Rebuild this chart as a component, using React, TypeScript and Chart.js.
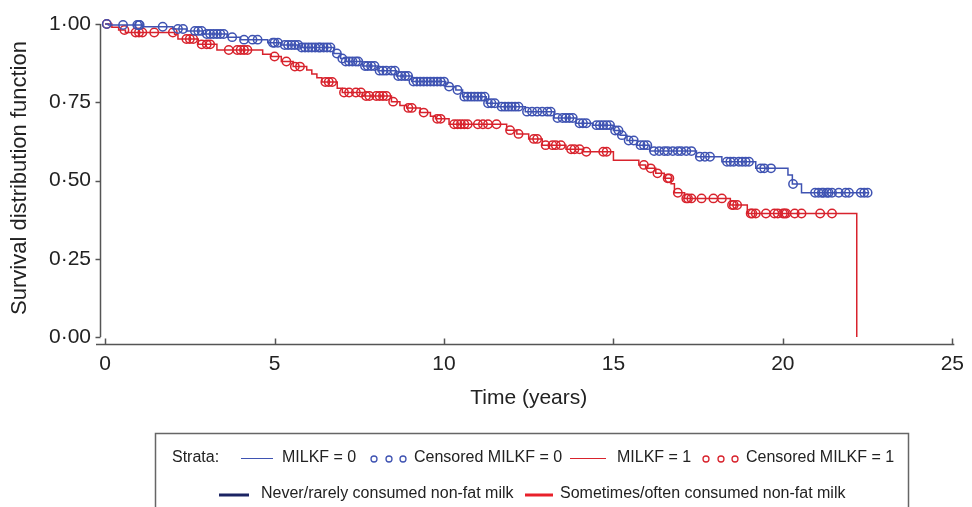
import React, { useEffect, useRef } from 'react';
import { Chart, registerables } from 'chart.js';

Chart.register(...registerables);

const FONT = '"Liberation Sans", Arial, Helvetica, sans-serif';
const BLUE = '#3f53b2';
const RED = '#d8232d';
const NAVY = '#1b2463';
const RED2 = '#e8202a';
const AXIS = '#555555';

const xTicks = [0, 5, 10, 15, 20, 25];
const yTicks = [0, 0.25, 0.5, 0.75, 1.0];

// MILKF = 0 : Kaplan-Meier step points (time, survival after the step)
const blueStepT = [0, 0.1, 1.1, 2.0, 2.4, 2.9, 3.6, 4.0, 4.8, 5.2, 5.75, 6.75, 6.95, 7.1, 7.6, 8.05, 8.6, 9.05, 10.05, 10.35, 10.55, 11.25, 11.6, 12.4, 13.25, 13.9, 14.4, 15.0, 15.2, 15.4, 15.7, 16.07, 17.45, 18.2, 19.2, 20.15, 20.28, 20.55, 22.55];
const blueStepS = [1.0, 0.997, 0.991, 0.984, 0.978, 0.968, 0.958, 0.95, 0.94, 0.933, 0.925, 0.906, 0.89, 0.88, 0.866, 0.851, 0.834, 0.816, 0.8, 0.789, 0.768, 0.747, 0.736, 0.72, 0.7, 0.683, 0.677, 0.66, 0.645, 0.628, 0.613, 0.594, 0.576, 0.56, 0.539, 0.518, 0.489, 0.461, 0.461];
const blueCensT = [0.05, 0.53, 0.95, 1.0, 1.02, 1.7, 2.15, 2.3, 2.65, 2.75, 2.85, 3.0, 3.1, 3.2, 3.3, 3.4, 3.5, 3.75, 4.1, 4.35, 4.5, 4.95, 5.0, 5.1, 5.3, 5.4, 5.5, 5.6, 5.7, 5.8, 5.9, 6.0, 6.1, 6.2, 6.3, 6.35, 6.45, 6.55, 6.65, 6.84, 7.0, 7.1, 7.2, 7.3, 7.4, 7.47, 7.67, 7.75, 7.85, 7.95, 8.1, 8.2, 8.3, 8.45, 8.55, 8.65, 8.75, 8.85, 8.94, 9.1, 9.2, 9.3, 9.4, 9.5, 9.6, 9.7, 9.8, 9.9, 10.0, 10.15, 10.4, 10.6, 10.7, 10.8, 10.9, 11.0, 11.1, 11.2, 11.3, 11.4, 11.5, 11.7, 11.8, 11.9, 12.0, 12.1, 12.2, 12.45, 12.6, 12.75, 12.9, 13.05, 13.15, 13.35, 13.5, 13.6, 13.7, 13.8, 14.0, 14.1, 14.2, 14.5, 14.6, 14.7, 14.8, 14.9, 15.05, 15.15, 15.25, 15.45, 15.6, 15.8, 15.9, 16.0, 16.2, 16.35, 16.5, 16.6, 16.75, 16.9, 17.0, 17.15, 17.3, 17.55, 17.7, 17.85, 18.35, 18.45, 18.55, 18.7, 18.8, 18.9, 19.0, 19.35, 19.45, 19.65, 20.3, 20.95, 21.05, 21.15, 21.2, 21.3, 21.35, 21.45, 21.65, 21.85, 21.95, 22.3, 22.4, 22.5];

// MILKF = 1
const redStepT = [0, 0.2, 0.4, 0.6, 2.05, 2.15, 2.75, 3.3, 4.65, 4.9, 5.2, 5.55, 5.95, 6.1, 6.25, 6.4, 6.85, 7.0, 7.6, 8.45, 8.7, 8.9, 9.3, 9.6, 9.75, 10.15, 11.85, 12.15, 12.5, 12.9, 13.6, 14.1, 15.0, 15.75, 15.95, 16.25, 16.5, 16.7, 16.8, 17.1, 18.45, 18.95, 22.18];
const redStepS = [1.0, 0.99, 0.981, 0.973, 0.967, 0.952, 0.935, 0.917, 0.903, 0.896, 0.88, 0.864, 0.853, 0.84, 0.828, 0.815, 0.795, 0.781, 0.77, 0.752, 0.74, 0.732, 0.717, 0.705, 0.697, 0.68, 0.661, 0.649, 0.633, 0.613, 0.6, 0.592, 0.565, 0.55, 0.539, 0.523, 0.507, 0.49, 0.461, 0.443, 0.422, 0.395, 0.0];
const redCensT = [0.05, 0.57, 0.9, 1.0, 1.1, 1.45, 2.0, 2.4, 2.5, 2.6, 2.85, 3.0, 3.1, 3.65, 3.9, 4.0, 4.1, 4.2, 5.0, 5.35, 5.6, 5.75, 6.5, 6.6, 6.7, 7.05, 7.2, 7.4, 7.55, 7.7, 7.8, 8.0, 8.1, 8.2, 8.3, 8.5, 8.95, 9.05, 9.4, 9.8, 9.9, 10.3, 10.4, 10.5, 10.6, 10.7, 11.0, 11.15, 11.3, 11.55, 11.95, 12.2, 12.65, 12.75, 13.0, 13.2, 13.3, 13.45, 13.75, 13.85, 14.0, 14.2, 14.7, 14.8, 15.9, 16.1, 16.3, 16.6, 16.65, 16.9, 17.15, 17.2, 17.3, 17.6, 17.95, 18.2, 18.5, 18.55, 18.65, 19.05, 19.1, 19.2, 19.5, 19.75, 19.85, 20.0, 20.05, 20.1, 20.35, 20.55, 21.1, 21.45];

function survAt(ts: number[], ss: number[], t: number) {
  let s = ss[0];
  for (let i = 0; i < ts.length; i++) if (ts[i] <= t) s = ss[i];
  return s;
}

const stepPts = (ts: number[], ss: number[]) => ts.map((t, i) => ({ x: t, y: ss[i] }));
const censPts = (cs: number[], ts: number[], ss: number[]) => cs.map((t) => ({ x: t, y: survAt(ts, ss, t) }));

const decor = {
  id: 'decor',
  afterDraw(chart: any) {
    const ctx = chart.ctx;
    const xs = chart.scales.x;
    const ys = chart.scales.y;
    const ca = chart.chartArea;
    ctx.save();
    ctx.strokeStyle = AXIS;
    ctx.lineWidth = 1.5;
    // y axis
    const ax = Math.round(ca.left) + 0.5;
    ctx.beginPath();
    ctx.moveTo(ax, ys.getPixelForValue(1.0));
    ctx.lineTo(ax, ys.getPixelForValue(0));
    ctx.stroke();
    yTicks.forEach((v) => {
      const py = Math.round(ys.getPixelForValue(v)) + 0.5;
      ctx.beginPath();
      ctx.moveTo(ax - 5, py);
      ctx.lineTo(ax, py);
      ctx.stroke();
    });
    // x axis
    const by = Math.round(ca.bottom) + 0.5;
    ctx.beginPath();
    ctx.moveTo(ca.left - 4, by);
    ctx.lineTo(ca.right + 2, by);
    ctx.stroke();
    xTicks.forEach((v) => {
      const px = Math.round(xs.getPixelForValue(v)) + 0.5;
      ctx.beginPath();
      ctx.moveTo(px, by);
      ctx.lineTo(px, by - 6);
      ctx.stroke();
    });
    // titles
    ctx.fillStyle = '#222';
    ctx.textAlign = 'center';
    ctx.textBaseline = 'middle';
    ctx.font = `21px ${FONT}`;
    ctx.fillText('Time (years)', (xs.getPixelForValue(0) + xs.getPixelForValue(25)) / 2, 398);
    ctx.save();
    ctx.translate(20, 178);
    ctx.rotate(-Math.PI / 2);
    ctx.font = `22px ${FONT}`;
    ctx.fillText('Survival distribution function', 0, 0);
    ctx.restore();

    // legend box
    ctx.strokeStyle = '#666';
    ctx.lineWidth = 1.5;
    ctx.strokeRect(155.5, 433.5, 753, 100);
    ctx.font = `16px ${FONT}`;
    ctx.textAlign = 'left';
    ctx.fillStyle = '#222';
    const r1 = 458;
    ctx.fillText('Strata:', 172, r1);
    ctx.strokeStyle = BLUE;
    ctx.lineWidth = 1;
    ctx.beginPath(); ctx.moveTo(241, r1 + 0.5); ctx.lineTo(273, r1 + 0.5); ctx.stroke();
    ctx.fillText('MILKF = 0', 282, r1);
    ctx.lineWidth = 1.3;
    [374, 389, 403].forEach((cx) => { ctx.beginPath(); ctx.arc(cx, r1 + 1, 3, 0, Math.PI * 2); ctx.stroke(); });
    ctx.fillText('Censored MILKF = 0', 414, r1);
    ctx.strokeStyle = RED;
    ctx.lineWidth = 1;
    ctx.beginPath(); ctx.moveTo(570, r1 + 0.5); ctx.lineTo(606, r1 + 0.5); ctx.stroke();
    ctx.fillText('MILKF = 1', 617, r1);
    ctx.lineWidth = 1.3;
    [706, 721, 735].forEach((cx) => { ctx.beginPath(); ctx.arc(cx, r1 + 1, 3, 0, Math.PI * 2); ctx.stroke(); });
    ctx.fillText('Censored MILKF = 1', 746, r1);
    const r2 = 494;
    ctx.lineWidth = 3;
    ctx.strokeStyle = NAVY;
    ctx.beginPath(); ctx.moveTo(219, r2 + 1); ctx.lineTo(249, r2 + 1); ctx.stroke();
    ctx.fillText('Never/rarely consumed non-fat milk', 261, r2);
    ctx.strokeStyle = RED2;
    ctx.beginPath(); ctx.moveTo(525, r2 + 1); ctx.lineTo(553, r2 + 1); ctx.stroke();
    ctx.fillText('Sometimes/often consumed non-fat milk', 560, r2);
    ctx.restore();
  },
};

export default function App() {
  const ref = useRef<HTMLCanvasElement | null>(null);
  useEffect(() => {
    document.body.style.margin = '0';
    Chart.defaults.font.family = FONT;
    const chart = new Chart(ref.current as HTMLCanvasElement, {
      type: 'scatter',
      data: {
        datasets: [
          {
            type: 'line',
            label: 'MILKF = 0',
            data: stepPts(blueStepT, blueStepS),
            stepped: 'before',
            borderColor: BLUE,
            borderWidth: 1.5,
            pointRadius: 0,
            fill: false,
            clip: false,
          } as any,
          {
            type: 'scatter',
            label: 'Censored MILKF = 0',
            data: censPts(blueCensT, blueStepT, blueStepS),
            pointStyle: 'circle',
            pointRadius: 4.2,
            borderColor: BLUE,
            backgroundColor: 'rgba(0,0,0,0)',
            borderWidth: 1.5,
            clip: false,
          } as any,
          {
            type: 'line',
            label: 'MILKF = 1',
            data: stepPts(redStepT, redStepS),
            stepped: 'before',
            borderColor: RED,
            borderWidth: 1.5,
            pointRadius: 0,
            fill: false,
            clip: false,
          } as any,
          {
            type: 'scatter',
            label: 'Censored MILKF = 1',
            data: censPts(redCensT, redStepT, redStepS),
            pointStyle: 'circle',
            pointRadius: 4.2,
            borderColor: RED,
            backgroundColor: 'rgba(0,0,0,0)',
            borderWidth: 1.5,
            clip: false,
          } as any,
        ],
      },
      options: {
        responsive: false,
        animation: false,
        layout: { padding: { top: 24, right: 14, left: 0, bottom: 0 } },
        plugins: { legend: { display: false }, tooltip: { enabled: false } },
        scales: {
          x: {
            type: 'linear',
            min: -0.15,
            max: 25,
            grid: { display: false, drawTicks: false },
            border: { display: false },
            afterBuildTicks: (s: any) => { s.ticks = xTicks.map((v) => ({ value: v })); },
            afterFit: (s: any) => { s.height = 163; },
            ticks: { font: { size: 21, family: FONT }, color: '#222', padding: 8, maxRotation: 0, callback: (v: any) => String(v) },
          },
          y: {
            type: 'linear',
            min: -0.022,
            max: 1.0,
            grid: { display: false, drawTicks: false },
            border: { display: false },
            afterBuildTicks: (s: any) => { s.ticks = yTicks.map((v) => ({ value: v })); },
            afterFit: (s: any) => { s.width = 100; },
            ticks: { font: { size: 21, family: FONT }, color: '#222', padding: 9, callback: (v: any) => Number(v).toFixed(2).replace('.', '\u00B7') },
          },
        },
      },
      plugins: [decor],
    });
    return () => chart.destroy();
  }, []);
  return (
    <div style={{ width: 972, height: 507, position: 'relative', background: '#fff' }}>
      <canvas ref={ref} width={972} height={507} />
    </div>
  );
}
